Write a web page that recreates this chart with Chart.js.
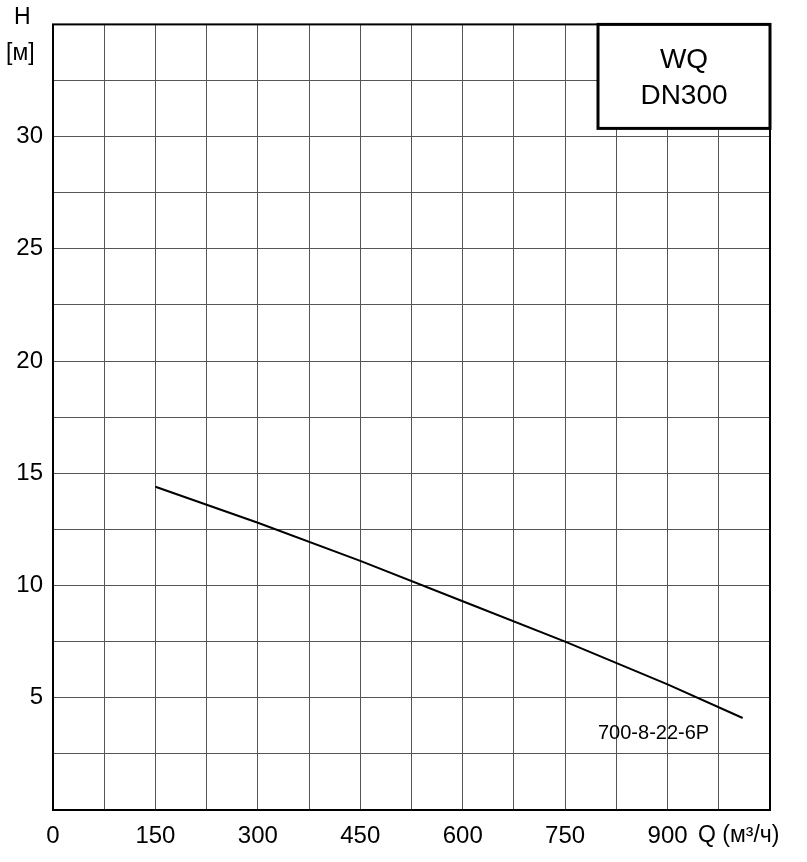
<!DOCTYPE html>
<html><head><meta charset="utf-8">
<script src="https://cdn.jsdelivr.net/npm/chart.js@4/dist/chart.umd.min.js"></script>
<style>html,body{margin:0;padding:0;background:#fff}#w{width:807px;height:862px}</style>
</head><body><div id="w"><canvas id="c"></canvas></div>
<script>
const flowQ = [150, 300, 450, 600, 750, 900, 1010];
const headH = [14.4, 12.8, 11.1, 9.3, 7.5, 5.6, 4.1];
const curveLabel = '700-8-22-6P';
const titleLines = ['WQ', 'DN300'];
const FONT = '"Liberation Sans", Arial, sans-serif';

const overlay = {
  id: 'overlay',
  afterDraw(ch) {
    const c = ch.ctx, a = ch.chartArea;
    c.save();
    c.strokeStyle = '#000'; c.lineWidth = 2;
    c.strokeRect(a.left, a.top, a.right - a.left, a.bottom - a.top);
    const bx = 598, bw = a.right - bx, bh = 104;
    c.fillStyle = '#fff'; c.fillRect(bx, a.top, bw, bh);
    c.lineWidth = 3; c.strokeRect(bx, a.top, bw, bh);
    c.fillStyle = '#000'; c.font = '28px ' + FONT; c.textAlign = 'center'; c.textBaseline = 'middle';
    c.fillText(titleLines[0], bx + bw / 2, a.top + 36);
    c.fillText(titleLines[1], bx + bw / 2, a.top + 72);
    c.font = '20px ' + FONT; c.textAlign = 'left';
    c.fillText(curveLabel, 598, 733);
    c.font = '23px ' + FONT;
    c.fillText('H', 14, 18);
    c.fillText('[м]', 6, 54);
    c.fillText('Q (м³/ч)', 698, 836);
    c.restore();
  }
};

new Chart(document.getElementById('c'), {
  type: 'scatter',
  data: { datasets: [{
    data: flowQ.map((q, i) => ({ x: q, y: headH[i] })),
    showLine: true, borderColor: '#000', borderWidth: 2, pointRadius: 0, tension: 0, fill: false
  }]},
  options: {
    responsive: true, maintainAspectRatio: false, animation: false,
    layout: { padding: { top: 5, right: 37, left: 0, bottom: 0 } },
    plugins: { legend: { display: false }, tooltip: { enabled: false } },
    scales: {
      x: {
        type: 'linear', min: 0, max: 1050,
        afterFit: s => { s.height = 52; },
        grid: { color: '#555', lineWidth: 1, drawTicks: false },
        border: { display: false },
        ticks: { stepSize: 75, padding: 12, color: '#000', font: { size: 24, family: FONT }, maxRotation: 0, autoSkip: false,
          callback: v => (v % 150 === 0 && v <= 900) ? String(v) : '' }
      },
      y: {
        min: 0, max: 35,
        afterFit: s => { s.width = 53; },
        grid: { color: '#555', lineWidth: 1, drawTicks: false },
        border: { display: false },
        ticks: { stepSize: 2.5, padding: 10, color: '#000', font: { size: 24, family: FONT }, autoSkip: false,
          callback: v => (v % 5 === 0 && v > 0 && v <= 30) ? String(v) : '' }
      }
    }
  },
  plugins: [overlay]
});
</script></body></html>
